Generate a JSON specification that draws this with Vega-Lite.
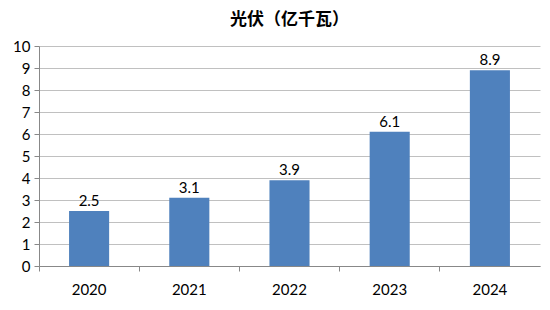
{
  "$schema": "https://vega.github.io/schema/vega-lite/v6.json",
  "autosize": "none",
  "width": 501,
  "height": 220,
  "padding": {"left": 39, "top": 46, "right": 10, "bottom": 44},
  "background": "#ffffff",
  "title": {
    "text": "光伏（亿千瓦）",
    "font": "Noto Sans CJK SC",
    "fontSize": 17,
    "fontWeight": "bold",
    "color": "#000000",
    "anchor": "middle",
    "offset": 10
  },
  "config": {
    "view": {"stroke": null},
    "font": "Lato"
  },
  "data": {
    "values": [
      {"year": "2020", "value": 2.5},
      {"year": "2021", "value": 3.1},
      {"year": "2022", "value": 3.9},
      {"year": "2023", "value": 6.1},
      {"year": "2024", "value": 8.9}
    ]
  },
  "encoding": {
    "x": {
      "field": "year",
      "type": "nominal",
      "scale": {"paddingInner": 0, "paddingOuter": 0},
      "axis": {
        "title": null,
        "labelAngle": 0,
        "labelFont": "Lato",
        "labelFontSize": 15,
        "labelColor": "#000000",
        "labelPadding": 11,
        "domainColor": "#888888",
        "tickColor": "#888888",
        "tickSize": 5,
        "bandPosition": 0,
        "grid": false
      }
    },
    "y": {
      "field": "value",
      "type": "quantitative",
      "scale": {"domain": [0, 10], "nice": false},
      "axis": {
        "title": null,
        "values": [0, 1, 2, 3, 4, 5, 6, 7, 8, 9, 10],
        "labelFont": "Lato",
        "labelFontSize": 15,
        "labelColor": "#000000",
        "labelPadding": 4,
        "domainColor": "#888888",
        "tickColor": "#888888",
        "tickSize": 5,
        "gridColor": "#c0c0c0",
        "gridWidth": 1
      }
    }
  },
  "layer": [
    {
      "mark": {"type": "bar", "color": "#4F81BD", "width": {"band": 0.4}}
    },
    {
      "mark": {"type": "text", "dy": -10, "fontSize": 15, "font": "Lato", "color": "#000000"},
      "encoding": {"text": {"field": "value", "type": "quantitative", "format": ".1f"}}
    }
  ]
}
